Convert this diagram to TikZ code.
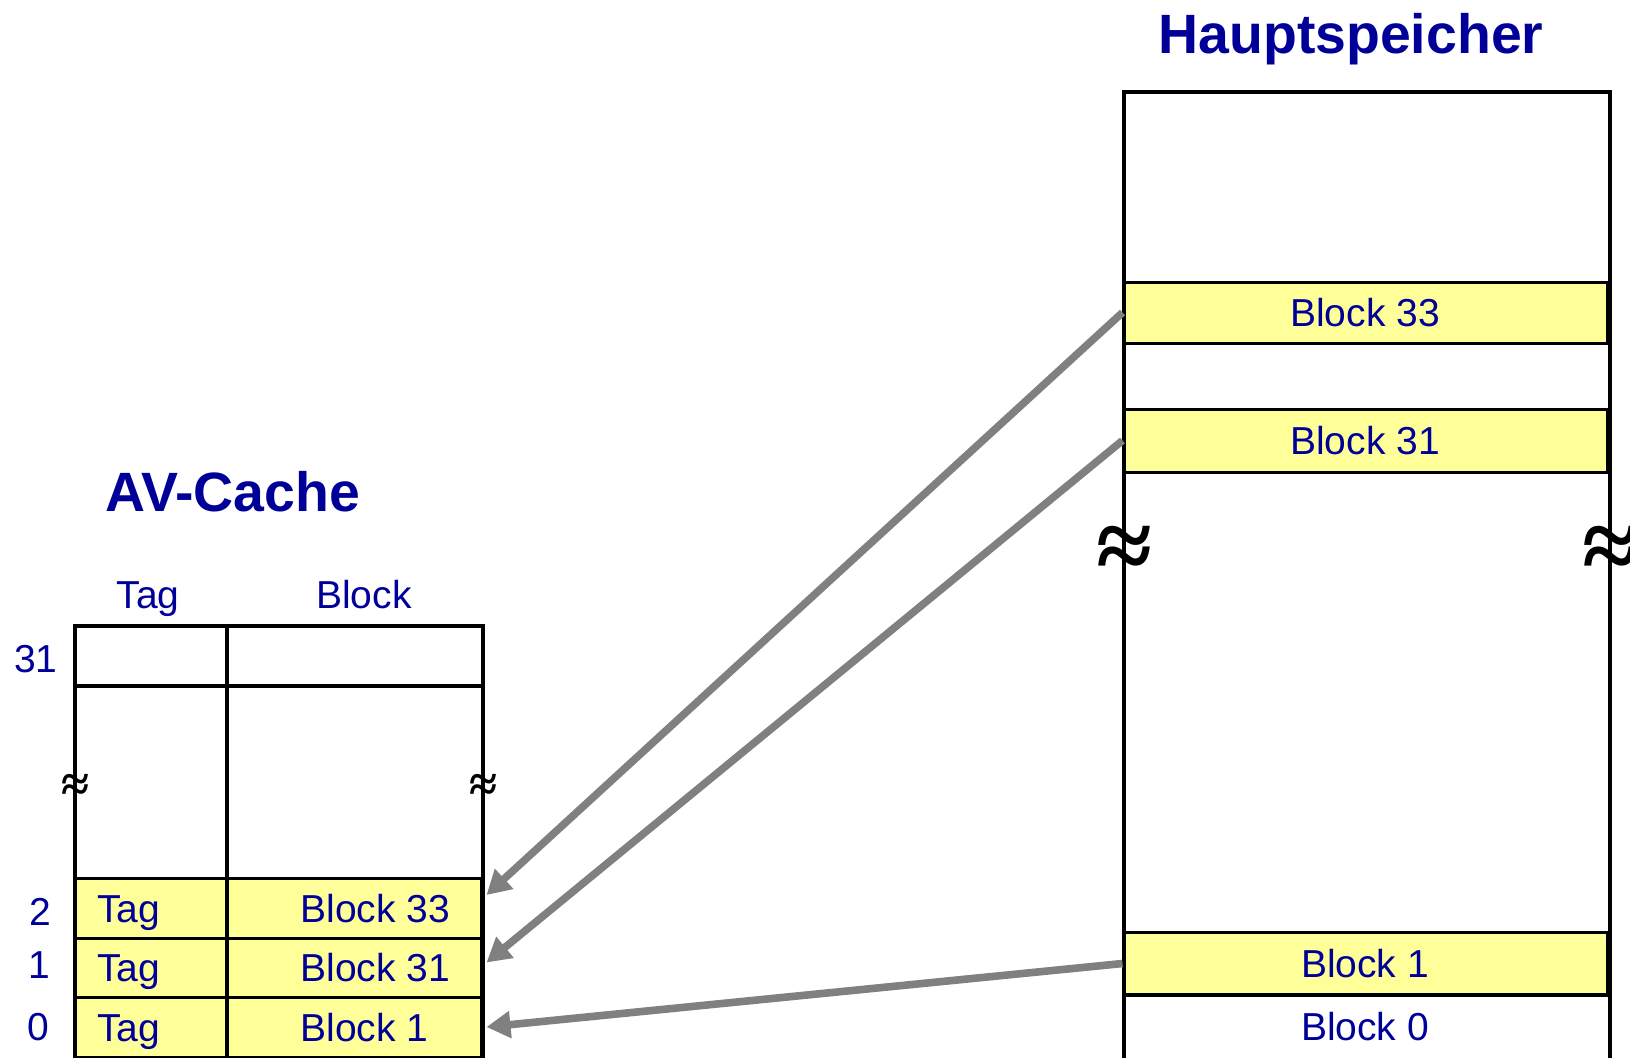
\documentclass[tikz,border=0pt]{standalone}
\usepackage{fontspec}
\setmainfont{Liberation Sans}
\newfontfamily\apxfont{Liberation Serif}
\usetikzlibrary{arrows.meta}
\definecolor{txtblue}{RGB}{0,0,153}
\definecolor{lyellow}{RGB}{255,255,153}
\definecolor{arrgray}{RGB}{128,128,128}
\begin{document}
\begin{tikzpicture}[x=0.5pt,y=-0.5pt,
  lbl/.style={text=txtblue,font=\fontsize{19.5}{20}\selectfont,inner sep=0pt},
  ttl/.style={text=txtblue,font=\fontsize{27.7}{28}\bfseries\selectfont,inner sep=0pt},
  yrow/.style={draw=black,fill=lyellow,line width=1.5pt,inner sep=0pt,minimum width=#1},
  frame/.style={line width=2pt},
  apx/.style={font=\apxfont\bfseries\fontsize{#1}{#1}\selectfont,inner sep=0pt},
  conn/.style={draw=arrgray,line width=3.8pt,-{Triangle[length=12pt,width=13pt]}}
]
\useasboundingbox (0,0) rectangle (1630,1057);
\clip (0,0) rectangle (1630,1057);

% titles
\node[ttl,anchor=base] (hs) at (1351,53) {Hauptspeicher};
\node[ttl,anchor=base] (av) at (233,511) {AV-Cache};

% main memory
\draw[frame] (1124,1070) -- (1124,92) -- (1610,92) -- (1610,1070);
\node[yrow=241.5pt,minimum height=30.5pt] (m33) at (1365.5,312.5) {};
\node[yrow=241.5pt,minimum height=31.5pt] (m31) at (1365.5,440.5) {};
\node[yrow=241.5pt,minimum height=31.5pt] (m1) at (1365.5,963.5) {};
\draw[line width=2.2pt] (1124,995) -- (1610,995);
\node[lbl,anchor=base] (m33t) at (1365,326.5) {Block 33};
\node[lbl,anchor=base] (m31t) at (1365,454.5) {Block 31};
\node[lbl,anchor=base] (m1t) at (1365,977.5) {Block 1};
\node[lbl,anchor=base] (m0t) at (1365,1040) {Block 0};
\node[apx=51pt] (ax1) at (1124,553) {≈};
\node[apx=51pt] (ax2) at (1610,553) {≈};

% cache
\draw[frame] (75,1070) -- (75,626) -- (483,626) -- (483,1070);
\draw[frame] (75,686) -- (483,686);
\node[yrow=203pt,minimum height=30pt] (c2) at (278,908) {};
\node[yrow=203pt,minimum height=29.5pt] (c1) at (278,967.5) {};
\node[yrow=203pt,minimum height=30pt] (c0) at (278,1027) {};
\draw[frame] (227,626) -- (227,1070);
\node[apx=25.5pt] (ax3) at (75,788) {≈};
\node[apx=25.5pt] (ax4) at (483,788) {≈};

\node[lbl,anchor=base] (htag) at (148,608) {Tag};
\node[lbl,anchor=base] (hblk) at (364,608) {Block};
\node[lbl,anchor=base] (i31) at (36,672) {31};
\node[lbl,anchor=base] (i2) at (40,925) {2};
\node[lbl,anchor=base] (i1) at (39,978) {1};
\node[lbl,anchor=base] (i0) at (38,1040) {0};

\node[lbl,anchor=base west] (t2) at (97,922) {Tag};
\node[lbl,anchor=base west] (t1) at (97,981.5) {Tag};
\node[lbl,anchor=base west] (t0) at (97,1041) {Tag};
\node[lbl,anchor=base west] (b2) at (300,922) {Block 33};
\node[lbl,anchor=base west] (b1) at (300,981.5) {Block 31};
\node[lbl,anchor=base west] (b0) at (300,1041) {Block 1};

% connectors
\draw[conn] (m33.west) -- ([xshift=2pt,yshift=6.5pt]c2.east);
\draw[conn] (m31.west) -- ([xshift=2pt,yshift=2.5pt]c1.east);
\draw[conn] (m1.west) -- ([xshift=2pt]c0.east);
\end{tikzpicture}
\end{document}
